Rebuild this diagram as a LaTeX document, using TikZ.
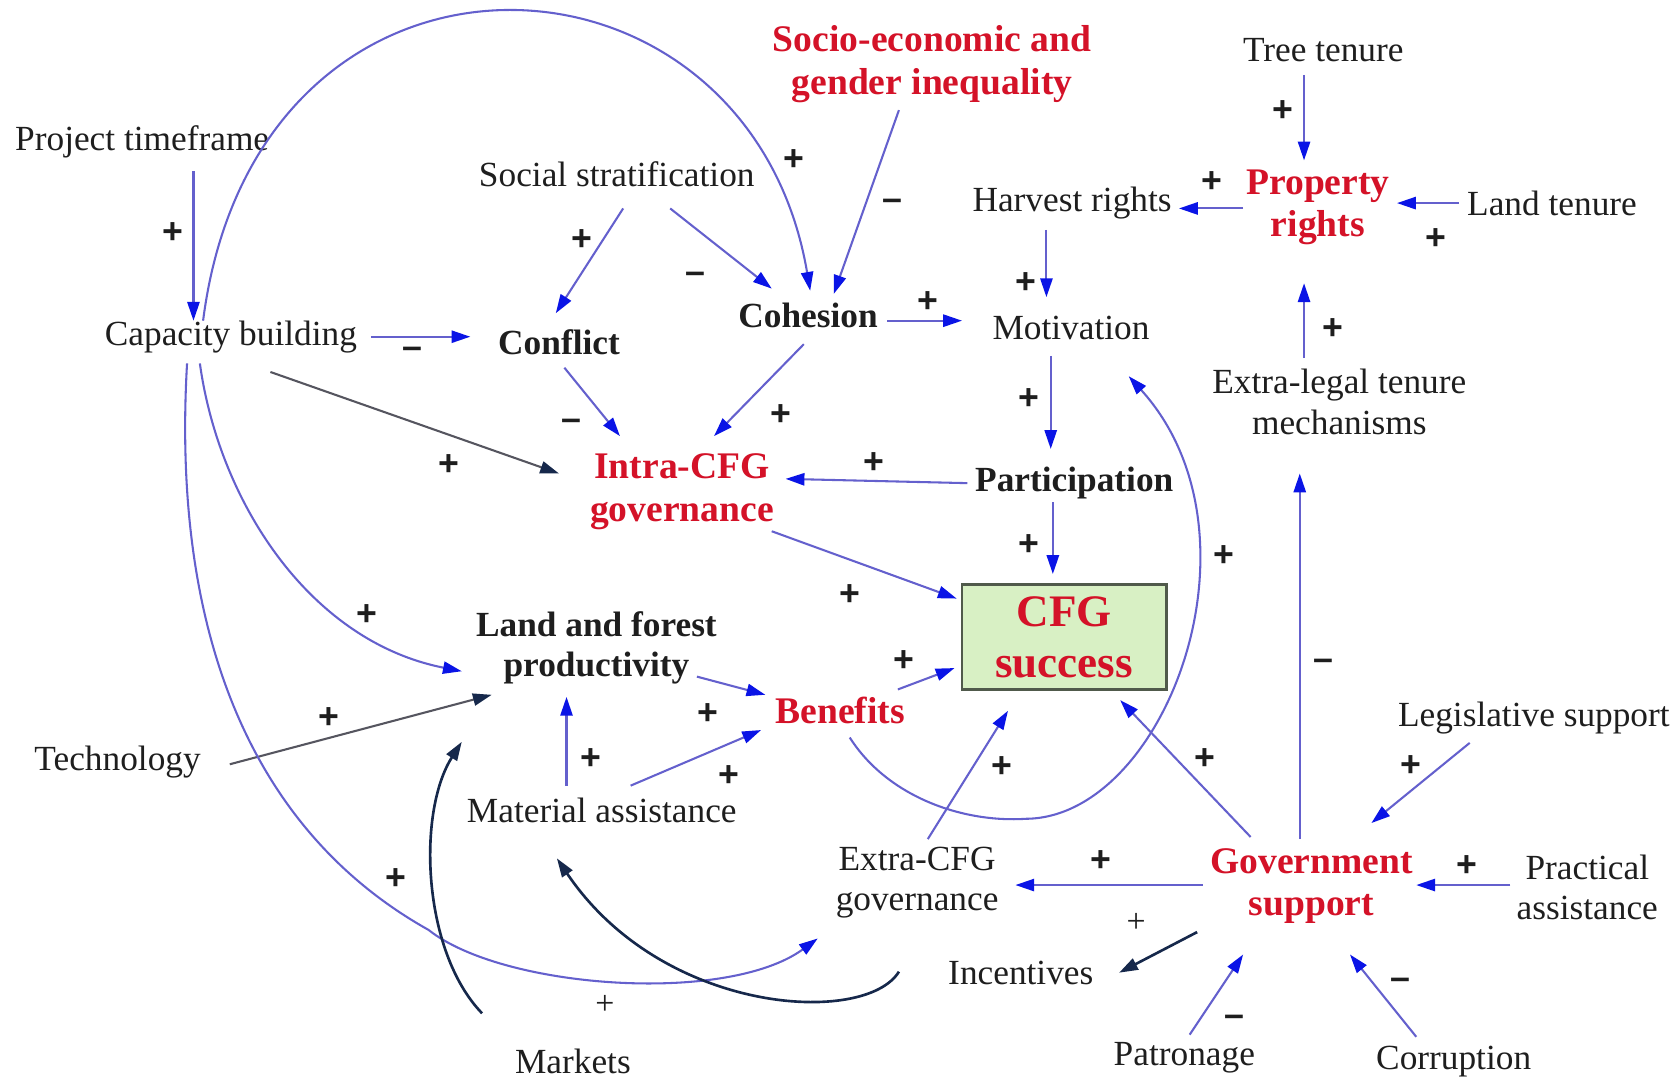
\documentclass[tikz,border=0pt]{standalone}
\usepackage{fontspec}
\setmainfont{Liberation Serif}
\newfontfamily\signfont{Liberation Sans}
\usetikzlibrary{arrows.meta,calc}
\definecolor{lineblue}{RGB}{100,96,205}
\definecolor{headblue}{RGB}{10,20,230}
\definecolor{navy}{RGB}{22,40,75}
\definecolor{dgray}{RGB}{85,85,95}
\definecolor{cfgred}{RGB}{212,18,40}
\definecolor{boxgreen}{RGB}{216,240,196}
\definecolor{boxedge}{RGB}{80,90,75}
\definecolor{txtblack}{RGB}{30,30,30}
\begin{document}
\begin{tikzpicture}[x=0.02cm,y=-0.02cm,
 txt/.style={font=\fontsize{18.8}{21.5}\selectfont, text=txtblack, align=center, inner sep=0pt},
 btxt/.style={font=\fontsize{18.8}{21.5}\selectfont\bfseries, text=txtblack, align=center, inner sep=0pt},
 rtxt/.style={font=\fontsize{20}{22.7}\selectfont\bfseries, text=cfgred, align=center, inner sep=0pt},
 cfgbox/.style={draw=boxedge, line width=1.5pt, fill=boxgreen, minimum width=3.82cm, minimum height=1.96cm,
   font=\fontsize{24}{27}\selectfont\bfseries, text=cfgred, align=center, inner sep=0pt},
 sign/.style={font=\signfont\fontsize{19}{19}\selectfont\bfseries, text=txtblack, inner sep=0pt},
 thinsign/.style={font=\fontsize{18}{18}\selectfont, text=txtblack, inner sep=0pt},
 bl/.style={draw=lineblue, line width=1.1pt, -{Triangle[length=10pt,width=6.5pt,color=headblue]}},
 gl/.style={draw=dgray, line width=1.1pt, -{Triangle[length=10pt,width=6.5pt,color=navy]}},
 nl/.style={draw=navy, line width=1.4pt, -{Triangle[length=10pt,width=6.5pt,color=navy]}},
]
\fill[white] (0,0) rectangle (1568,1012);
\useasboundingbox (0,0) rectangle (1568,1012);

% nodes
\node[txt] (pt) at (133,133) {Project timeframe};
\node[txt] (ss) at (577,163) {Social stratification};
\node[rtxt] (se) at (872,60) {Socio-economic and\\gender inequality};
\node[txt] (tt) at (1238,47) {Tree tenure};
\node[txt] (hr) at (1003,190) {Harvest rights};
\node[rtxt] (pr) at (1233,194) {Property\\rights};
\node[txt] (lt) at (1452,190) {Land tenure};
\node[txt] (cb) at (216,315) {Capacity building};
\node[btxt] (cf) at (523,320) {Conflict};
\node[btxt] (co) at (756,295) {Cohesion};
\node[txt] (mo) at (1002,307) {Motivation};
\node[txt] (el) at (1253,376) {Extra-legal tenure\\mechanisms};
\node[rtxt] (ic) at (638,460) {Intra-CFG\\governance};
\node[btxt] (pa) at (1005,452) {Participation};
\node[cfgbox] (cs) at (995.5,596) {CFG\\success};
\node[btxt] (lf) at (558,606) {Land and forest\\productivity};
\node[rtxt] (be) at (786,665) {Benefits};
\node[txt] (te) at (110,713) {Technology};
\node[txt] (ma) at (563,758) {Material assistance};
\node[txt] (ls) at (1435,672) {Legislative support};
\node[txt] (ec) at (858,826) {Extra-CFG\\governance};
\node[rtxt] (gs) at (1227,829) {Government\\support};
\node[txt] (pc) at (1485,830) {Practical\\assistance};
\node[txt] (inc) at (955,910) {Incentives};
\node[txt] (mk) at (536,993) {Markets};
\node[txt] (pn) at (1108,990) {Patronage};
\node[txt] (cr) at (1360,993) {Corruption};

% straight connectors
\draw[bl] ($(pt)+(48,27)$) -- ($(cb)+(-35,-15)$);
\draw[bl] ($(cb)+(131,0)$) -- ($(cf)+(-83,-5)$);
\draw[bl] ($(ss)+(6,32)$) -- ($(cf)+(-3,-27)$);
\draw[bl] ($(ss)+(50,32)$) -- ($(co)+(-34,-25)$);
\draw[bl] ($(se)+(-31,43)$) -- ($(co)+(24,-20)$);
\draw[bl] ($(co)+(74,5)$) -- ($(mo)+(-102,-7)$);
\draw[bl] ($(co)+(-4,27)$) -- ($(ic)+(30,-52)$);
\draw[bl] ($(cf)+(5,24)$) -- ($(ic)+(-58,-52)$);
\draw[gl] ($(cb)+(37,33)$) -- ($(ic)+(-115,-17)$);
\draw[bl] ($(pa)+(-100,0)$) -- ($(ic)+(97,-12)$);
\draw[bl] ($(mo)+(-19,26)$) -- ($(pa)+(-22,-32)$);
\draw[bl] ($(hr)+(-24,25)$) -- ($(mo)+(-23,-29)$);
\draw[bl] ($(pr)+(-70,1)$) -- ($(hr)+(100,5)$);
\draw[bl] ($(tt)+(-18,23)$) -- ($(pr)+(-13,-44)$);
\draw[bl] ($(lt)+(-87,0)$) -- ($(pr)+(74,-4)$);
\draw[bl] ($(el)+(-33,-41)$) -- ($(pr)+(-13,71)$);
\draw[bl] ($(gs)+(-11,-44)$) -- ($(el)+(-37,67)$);
\draw[bl] ($(ic)+(84,37)$) -- ($(cs)+(-100.5,-36)$);
\draw[bl] ($(pa)+(-20,18)$) -- ($(cs)+(-10.5,-59)$);
\draw[bl] ($(lf)+(94,27)$) -- ($(be)+(-70,-15)$);
\draw[bl] ($(be)+(54,-20)$) -- ($(cs)+(-102.5,29)$);
\draw[bl] ($(ma)+(-33,-23)$) -- ($(lf)+(-28,46)$);
\draw[bl] ($(ma)+(27,-23)$) -- ($(be)+(-74,18)$);
\draw[gl] ($(te)+(105,2)$) -- ($(lf)+(-98,44)$);
\draw[bl] ($(gs)+(-57,-46)$) -- ($(cs)+(52.5,59)$);
\draw[bl] ($(ec)+(10,-41)$) -- ($(cs)+(-52.5,69)$);
\draw[bl] ($(gs)+(-102,-1)$) -- ($(ec)+(92,2)$);
\draw[nl] ($(gs)+(-107,43)$) -- ($(inc)+(92,0)$);
\draw[bl] ($(ls)+(-60,23)$) -- ($(gs)+(56,-59)$);
\draw[bl] ($(pc)+(-72,-2)$) -- ($(gs)+(98,-1)$);
\draw[bl] ($(pn)+(5,-22)$) -- ($(gs)+(-64,64)$);
\draw[bl] ($(cr)+(-35,-23)$) -- ($(gs)+(36,64)$);

% curved connectors
\draw[bl] ($(cb)+(-26,-15)$) .. controls (240,-90) and (700,-70) .. ($(co)+(2,-23)$);
\draw[bl] ($(cb)+(-29,25)$) .. controls (205,470) and (290,600) .. ($(lf)+(-126,22)$);
\coordinate (lowbend) at (401,870);
\draw[bl] ($(cb)+(-41,25)$) .. controls (160,600) and (240,780) .. (lowbend)
   .. controls (470,925) and (680,940) .. ($(ec)+(-93,52)$);
\draw[nl] ($(mk)+(-85,-45)$) .. controls (395,890) and (390,760) .. ($(lf)+(-126,88)$);
\draw[nl] ($(inc)+(-114,-1)$) .. controls (810,960) and (620,950) .. ($(ma)+(-42,45)$);
\coordinate (loopbottom) at (960,766);
\draw[bl] ($(be)+(9,25)$) .. controls (830,745) and (900,770) .. (loopbottom)
   .. controls (1090,765) and (1190,500) .. ($(mo)+(54,45)$);

% polarity signs
\foreach \x/\y/\t [count=\i] in {162/218/+, 386/330/–, 544/225/+, 651/260/–, 835/192/–,
  743/150/+, 868/283/+, 731/388/+, 535/397/–, 420/435/+, 818/433/+, 963/373/+,
  960/265/+, 1134/170/+, 1200/104/+, 1343/224/+, 1247/308/+, 1238/622/–, 795/557/+,
  963/510/+, 662/668/+, 846/618/+, 553/710/+, 682/726/+, 308/672/+, 343/575/+,
  370/822/+, 1145/520/+, 1127/710/+, 937/718/+, 1030/806/+, 1320/717/+,
  1372/810/+, 1155/955/–, 1310/920/–}
  \node[sign] (s\i) at (\x,\y) {\t};
\node[thinsign] (t1) at (566,940) {+};
\node[thinsign] (t2) at (1063,863) {+};
\end{tikzpicture}
\end{document}
